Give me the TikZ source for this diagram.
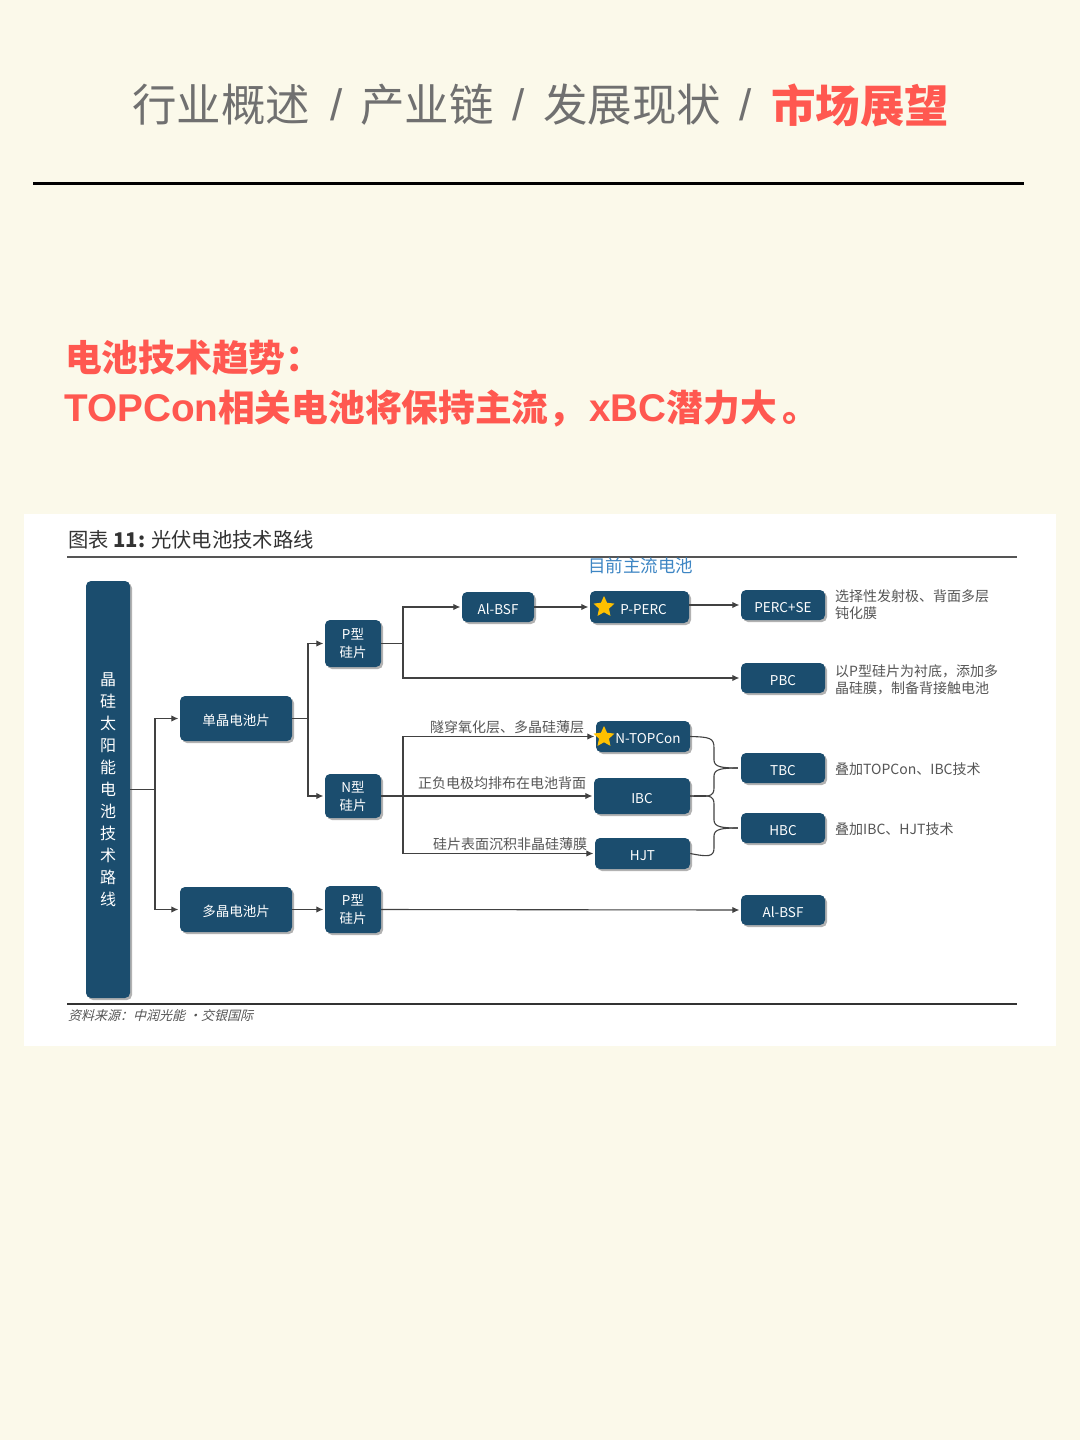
\documentclass[tikz,border=0pt]{standalone}
\usepackage{fontspec}
\setmainfont{Noto Sans CJK SC}
\newfontfamily\slantfont[FakeSlant=0.25]{Noto Sans CJK SC}
\newfontfamily\arialfont{Liberation Sans}
\usetikzlibrary{arrows.meta}
\usetikzlibrary{shadows}
\usetikzlibrary{shapes.geometric}
\definecolor{cream}{RGB}{251, 249, 234}
\definecolor{slate}{RGB}{27, 77, 110}
\definecolor{coral}{RGB}{255, 88, 80}
\definecolor{ash}{RGB}{112, 112, 112}
\definecolor{inkgray}{RGB}{85, 85, 85}
\definecolor{wire}{RGB}{65, 65, 65}
\definecolor{sky}{RGB}{62, 134, 196}
\definecolor{amber}{RGB}{255, 192, 0}
\newcommand{\headlatin}[1]{{\fontsize{38.7}{50}\selectfont\arialfont\bfseries #1}}
\tikzset{
    chip/.style={fill=slate, text=white, rounded corners=5pt, inner sep=0pt, align=center,
        font=\fontsize{13.5}{18}\selectfont, execute at begin node={\rule{0pt}{14.5pt}},
        drop shadow={shadow xshift=2pt, shadow yshift=-2pt, opacity=0.3, fill=black}},
    note/.style={text=inkgray, inner sep=0pt, align=left, anchor=west, font=\fontsize{14}{17}\selectfont},
    tag/.style={text=inkgray, inner sep=0pt, font=\fontsize{14}{17}\selectfont},
    link/.style={draw=wire, line width=1.1pt},
    feed/.style={link, -{Latex[length=7pt,width=6.5pt]}, shorten >=1.5pt},
    brace/.style={draw=wire, line width=1.1pt},
    badge/.style={star, star points=5, star point ratio=2.1, fill=amber, inner sep=0pt, minimum size=22pt},
    heading/.style={inner sep=0pt, anchor=west, text=ash, font=\fontsize{44.5}{50}\selectfont},
    slash/.style={inner sep=0pt, text=ash, font=\fontsize{44}{50}\selectfont\arialfont},
    headline/.style={inner sep=0pt, anchor=west, text=coral, font=\fontsize{36.7}{50}\selectfont\bfseries}
}
\begin{document}
\begin{tikzpicture}[x=1pt, y=-1pt]
    \useasboundingbox (0,0) rectangle (1080,1440);
    \fill[cream] (0,0) rectangle (1080,1440);
    \fill[white] (24,514) rectangle (1056,1046);

    % page heading
    \node[heading] (crumbone) at (132,105) {行业概述};
    \node[slash] (slashone) at (337,105) {/};
    \node[heading] (crumbtwo) at (360,105) {产业链};
    \node[slash] (slashtwo) at (519,105) {/};
    \node[heading] (crumbthree) at (543,105) {发展现状};
    \node[slash] (slashthree) at (746,105) {/};
    \node[heading, text=coral, font=\fontsize{44.5}{50}\selectfont\bfseries] (crumbnow) at (771,105) {市场展望};
    \draw[line width=3pt] (33,183) -- (1024,183);
    \node[headline] (headlineone) at (65,358) {电池技术趋势：};
    \node[headline] (headlinetwo) at (64,409) {\headlatin{TOPCon}相关电池将保持主流，\hspace{4pt}\headlatin{xBC}潜力大\hspace{6pt}。};

    % panel title and rules
    \node[inner sep=0pt, anchor=west, text=black!80, font=\fontsize{20.3}{22}\selectfont] (figtitle) at (68,540) {图表 {\bfseries 11:} 光伏电池技术路线};
    \draw[inkgray, line width=1.2pt] (67,557) -- (1017,557);
    \draw[black!80, line width=1.2pt] (67,1004) -- (1017,1004);
    \node[inner sep=0pt, anchor=west, text=inkgray, font=\fontsize{13}{15}\selectfont\slantfont] (source) at (68,1015.5) {资料来源：中润光能 ·交银国际};
    \node[inner sep=0pt, text=sky, font=\fontsize{17.5}{20}\selectfont] (mainstream) at (640.5,566) {目前主流电池};

    % boxes
    \node[chip, minimum width=44pt, minimum height=417pt, font=\fontsize{16}{22}\selectfont] (main) at (108,789.5)
        {晶\\硅\\太\\阳\\能\\电\\池\\技\\术\\路\\线};
    \node[chip, minimum width=112pt, minimum height=45pt] (mono) at (236,718.5) {单晶电池片};
    \node[chip, minimum width=112pt, minimum height=45pt] (poly) at (236,909.5) {多晶电池片};
    \node[chip, minimum width=56pt, minimum height=47pt] (ptop) at (353,643.5) {P型\\硅片};
    \node[chip, minimum width=56pt, minimum height=44pt] (ntype) at (353,796) {N型\\硅片};
    \node[chip, minimum width=56pt, minimum height=47pt] (pbot) at (353,909.5) {P型\\硅片};
    \node[chip, minimum width=72pt, minimum height=30pt] (bsftop) at (498,607) {Al-BSF};
    \node[chip, minimum width=99pt, minimum height=32pt] (pperc) at (639.5,607) {\hspace*{8pt}P-PERC};
    \node[chip, minimum width=94pt, minimum height=31pt] (ntopcon) at (643,736.5) {\hspace*{10pt}N-TOPCon};
    \node[chip, minimum width=96pt, minimum height=36pt] (ibc) at (642,796) {IBC};
    \node[chip, minimum width=95pt, minimum height=31pt] (hjt) at (642.5,853.5) {HJT};
    \node[chip, minimum width=84pt, minimum height=30pt] (percse) at (783,605) {PERC+SE};
    \node[chip, minimum width=84pt, minimum height=30pt] (pbc) at (783,678) {PBC};
    \node[chip, minimum width=84pt, minimum height=30pt] (tbc) at (783,768) {TBC};
    \node[chip, minimum width=84pt, minimum height=30pt] (hbc) at (783,828) {HBC};
    \node[chip, minimum width=84pt, minimum height=30pt] (bsfbot) at (783,910) {Al-BSF};
    \node[badge] (starperc) at (604,607) {};
    \node[badge] (startopcon) at (604,737) {};

    % connectors
    \coordinate (trunkmain) at (155,789.5);
    \coordinate (trunkmono) at (308,718.5);
    \coordinate (trunkp) at (403,643.5);
    \coordinate (trunkn) at (403,796);
    \draw[link] (main.east) -- (trunkmain);
    \draw[feed] (trunkmain) |- (mono.west);
    \draw[feed] (trunkmain) |- (poly.west);
    \draw[link] (mono.east) -- (trunkmono);
    \draw[feed] (trunkmono) |- (ptop.west);
    \draw[feed] (trunkmono) |- (ntype.west);
    \draw[link] (ptop.east) -- (trunkp);
    \draw[feed] (trunkp) |- (bsftop.west);
    \draw[feed] (trunkp) |- (pbc.west);
    \draw[link] (ntype.east) -- (trunkn);
    \draw[feed] (trunkn) |- (ntopcon.west);
    \draw[feed] (trunkn) -- (ibc.west);
    \draw[feed] (trunkn) |- (hjt.west);
    \draw[feed] (bsftop.east) -- (pperc.west);
    \draw[feed] (pperc.east |- percse.west) -- (percse.west);
    \draw[feed] (poly.east) -- (pbot.west);
    \draw[feed] (pbot.east) -- (bsfbot.west);

    % braces
    \draw[brace] (ntopcon.east) .. controls (710,737) and (714,738) .. (714,748) -- (714,760) .. controls (714,767) and (722,768) .. ([xshift=-3pt]tbc.west);
    \draw[brace] (ibc.east) .. controls (708,797) and (714,797) .. (714,788) -- (714,776) .. controls (714,769) and (722,768) .. ([xshift=-3pt]tbc.west);
    \draw[brace] (ibc.east) .. controls (708,795) and (714,795) .. (714,804) -- (714,820) .. controls (714,827) and (722,828) .. ([xshift=-3pt]hbc.west);
    \draw[brace] (hjt.east) .. controls (708,857) and (714,857) .. (714,848) -- (714,836) .. controls (714,829) and (722,828) .. ([xshift=-3pt]hbc.west);

    % labels
    \node[tag] (tagtunnel) at (507,727) {隧穿氧化层、多晶硅薄层};
    \node[tag] (tagback) at (502,783) {正负电极均排布在电池背面};
    \node[tag] (tagfilm) at (510,844) {硅片表面沉积非晶硅薄膜};
    \node[note] (notese) at (835,605) {选择性发射极、背面多层\\钝化膜};
    \node[note] (notepbc) at (835,679.5) {以P型硅片为衬底，添加多\\晶硅膜，制备背接触电池};
    \node[note] (notetbc) at (835,769) {叠加TOPCon、IBC技术};
    \node[note] (notehbc) at (835,829) {叠加IBC、HJT技术};
\end{tikzpicture}
\end{document}
